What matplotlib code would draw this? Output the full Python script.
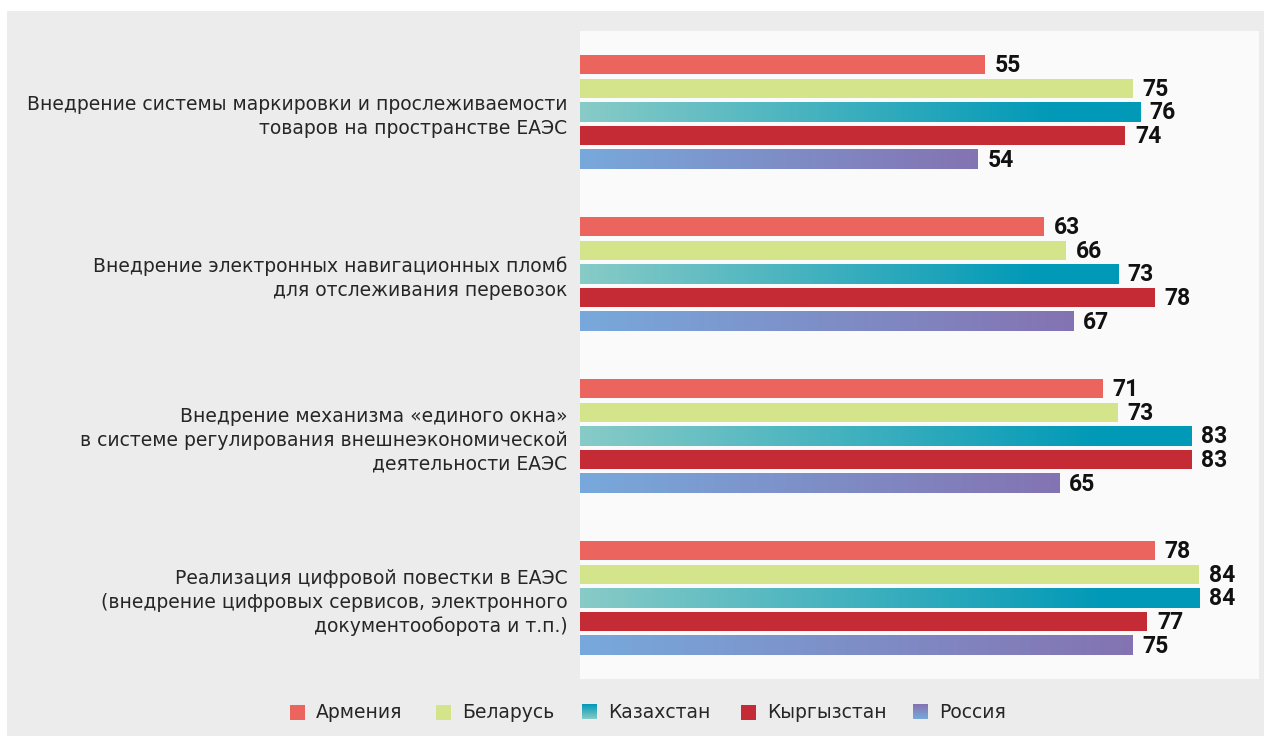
import numpy as np
import matplotlib
matplotlib.use("Agg")
import matplotlib.pyplot as plt
from matplotlib.colors import to_rgb
from matplotlib.patches import Rectangle

categories = [
    "Внедрение системы маркировки и прослеживаемости\nтоваров на пространстве ЕАЭС",
    "Внедрение электронных навигационных пломб\nдля отслеживания перевозок",
    "Внедрение механизма «единого окна»\nв системе регулирования внешнеэкономической\nдеятельности ЕАЭС",
    "Реализация цифровой повестки в ЕАЭС\n(внедрение цифровых сервисов, электронного\nдокументооборота и т.п.)",
]
countries = ["Армения", "Беларусь", "Казахстан", "Кыргызстан", "Россия"]
armenia = [55, 63, 71, 78]
belarus = [75, 66, 73, 84]
kazakhstan = [76, 73, 83, 84]
kyrgyzstan = [74, 78, 83, 77]
russia = [54, 67, 65, 75]
series = [armenia, belarus, kazakhstan, kyrgyzstan, russia]

# colours: (left/bottom, right/top); same colour = solid
colors = [
    ("#eb645e", "#eb645e"),
    ("#d4e48a", "#d4e48a"),
    ("#88cbc7", "#0099b7"),
    ("#c42b35", "#c42b35"),
    ("#78a9dc", "#8473b2"),
]
grad_frac = [1.0, 1.0, 0.85, 1.0, 1.0]

W, H = 1264, 736
fig = plt.figure(figsize=(W / 100, H / 100), dpi=100)
fig.patch.set_facecolor("white")
FONT = ["DejaVu Sans"]
TXT = "#262626"

# background axes (full figure, pixel coordinates)
bg = fig.add_axes([0, 0, 1, 1], zorder=0)
bg.set_xlim(0, W)
bg.set_ylim(H, 0)
bg.axis("off")
bg.add_patch(Rectangle((7, 11), W - 7, H - 11, facecolor="#ececec", edgecolor="none", zorder=0))


def grad_img(c0, c1, frac, n=256, vertical=False):
    a, b = np.array(to_rgb(c0)), np.array(to_rgb(c1))
    t = np.clip(np.linspace(0, 1, n) / frac, 0, 1)
    img = a[None, :] * (1 - t[:, None]) + b[None, :] * t[:, None]
    if vertical:
        return img[::-1, None, :]  # top = c1
    return img[None, :, :]


# main axes = inner white panel
L, T, R, B = 580, 31, 1259, 679
ax = fig.add_axes([L / W, 1 - B / H, (R - L) / W, (B - T) / H], zorder=1)
ax.set_facecolor("#fafafa")
for s in ax.spines.values():
    s.set_visible(False)

ng = len(categories)
pitch = 0.1466
height = 0.1175
xmax = (R - L) / 7.37
ax.set_xlim(0, xmax)
ax.set_ylim(ng - 0.5, -0.5)

for gi in range(ng):
    for si, vals in enumerate(series):
        y = gi + (si - 2) * pitch
        v = vals[gi]
        c0, c1 = colors[si]
        if c0 == c1:
            ax.barh(y, v, height=height, color=c0, zorder=2)
        else:
            ax.imshow(grad_img(c0, c1, grad_frac[si]), extent=(0, v, y + height / 2, y - height / 2),
                      aspect="auto", zorder=2, interpolation="bilinear")
        ax.text(v + 1.3, y + 0.005, str(v), ha="left", va="center", fontsize=16.5,
                fontweight="bold", color="#111111", family=["Roboto", "DejaVu Sans"], zorder=3)

ax.set_xlim(0, xmax)
ax.set_ylim(ng - 0.5, -0.5)
ax.set_xticks([])
ax.set_yticks(range(ng))
ax.set_yticklabels(categories, fontsize=13.5, color=TXT, family=FONT, linespacing=1.33,
                   multialignment="right")
ax.tick_params(axis="y", length=0, pad=9)

# legend (pixel coordinates on background axes)
leg_x = [290, 436, 582, 741, 913]
ly = 712
sq = 15
for i, name in enumerate(countries):
    c0, c1 = colors[i]
    x0 = leg_x[i]
    if c0 == c1:
        bg.add_patch(Rectangle((x0, ly - sq / 2), sq, sq, facecolor=c0, edgecolor="none", zorder=3))
    else:
        bg.imshow(grad_img(c0, c1, 1.0, vertical=True), extent=(x0, x0 + sq, ly + sq / 2, ly - sq / 2),
                  aspect="auto", interpolation="bilinear", zorder=3)
    bg.text(x0 + sq + 11, ly + 1, name, ha="left", va="center", fontsize=13.5, color=TXT,
            family=FONT, zorder=4)
bg.set_xlim(0, W)
bg.set_ylim(H, 0)

fig.savefig("out.png", dpi=100, facecolor="white")
